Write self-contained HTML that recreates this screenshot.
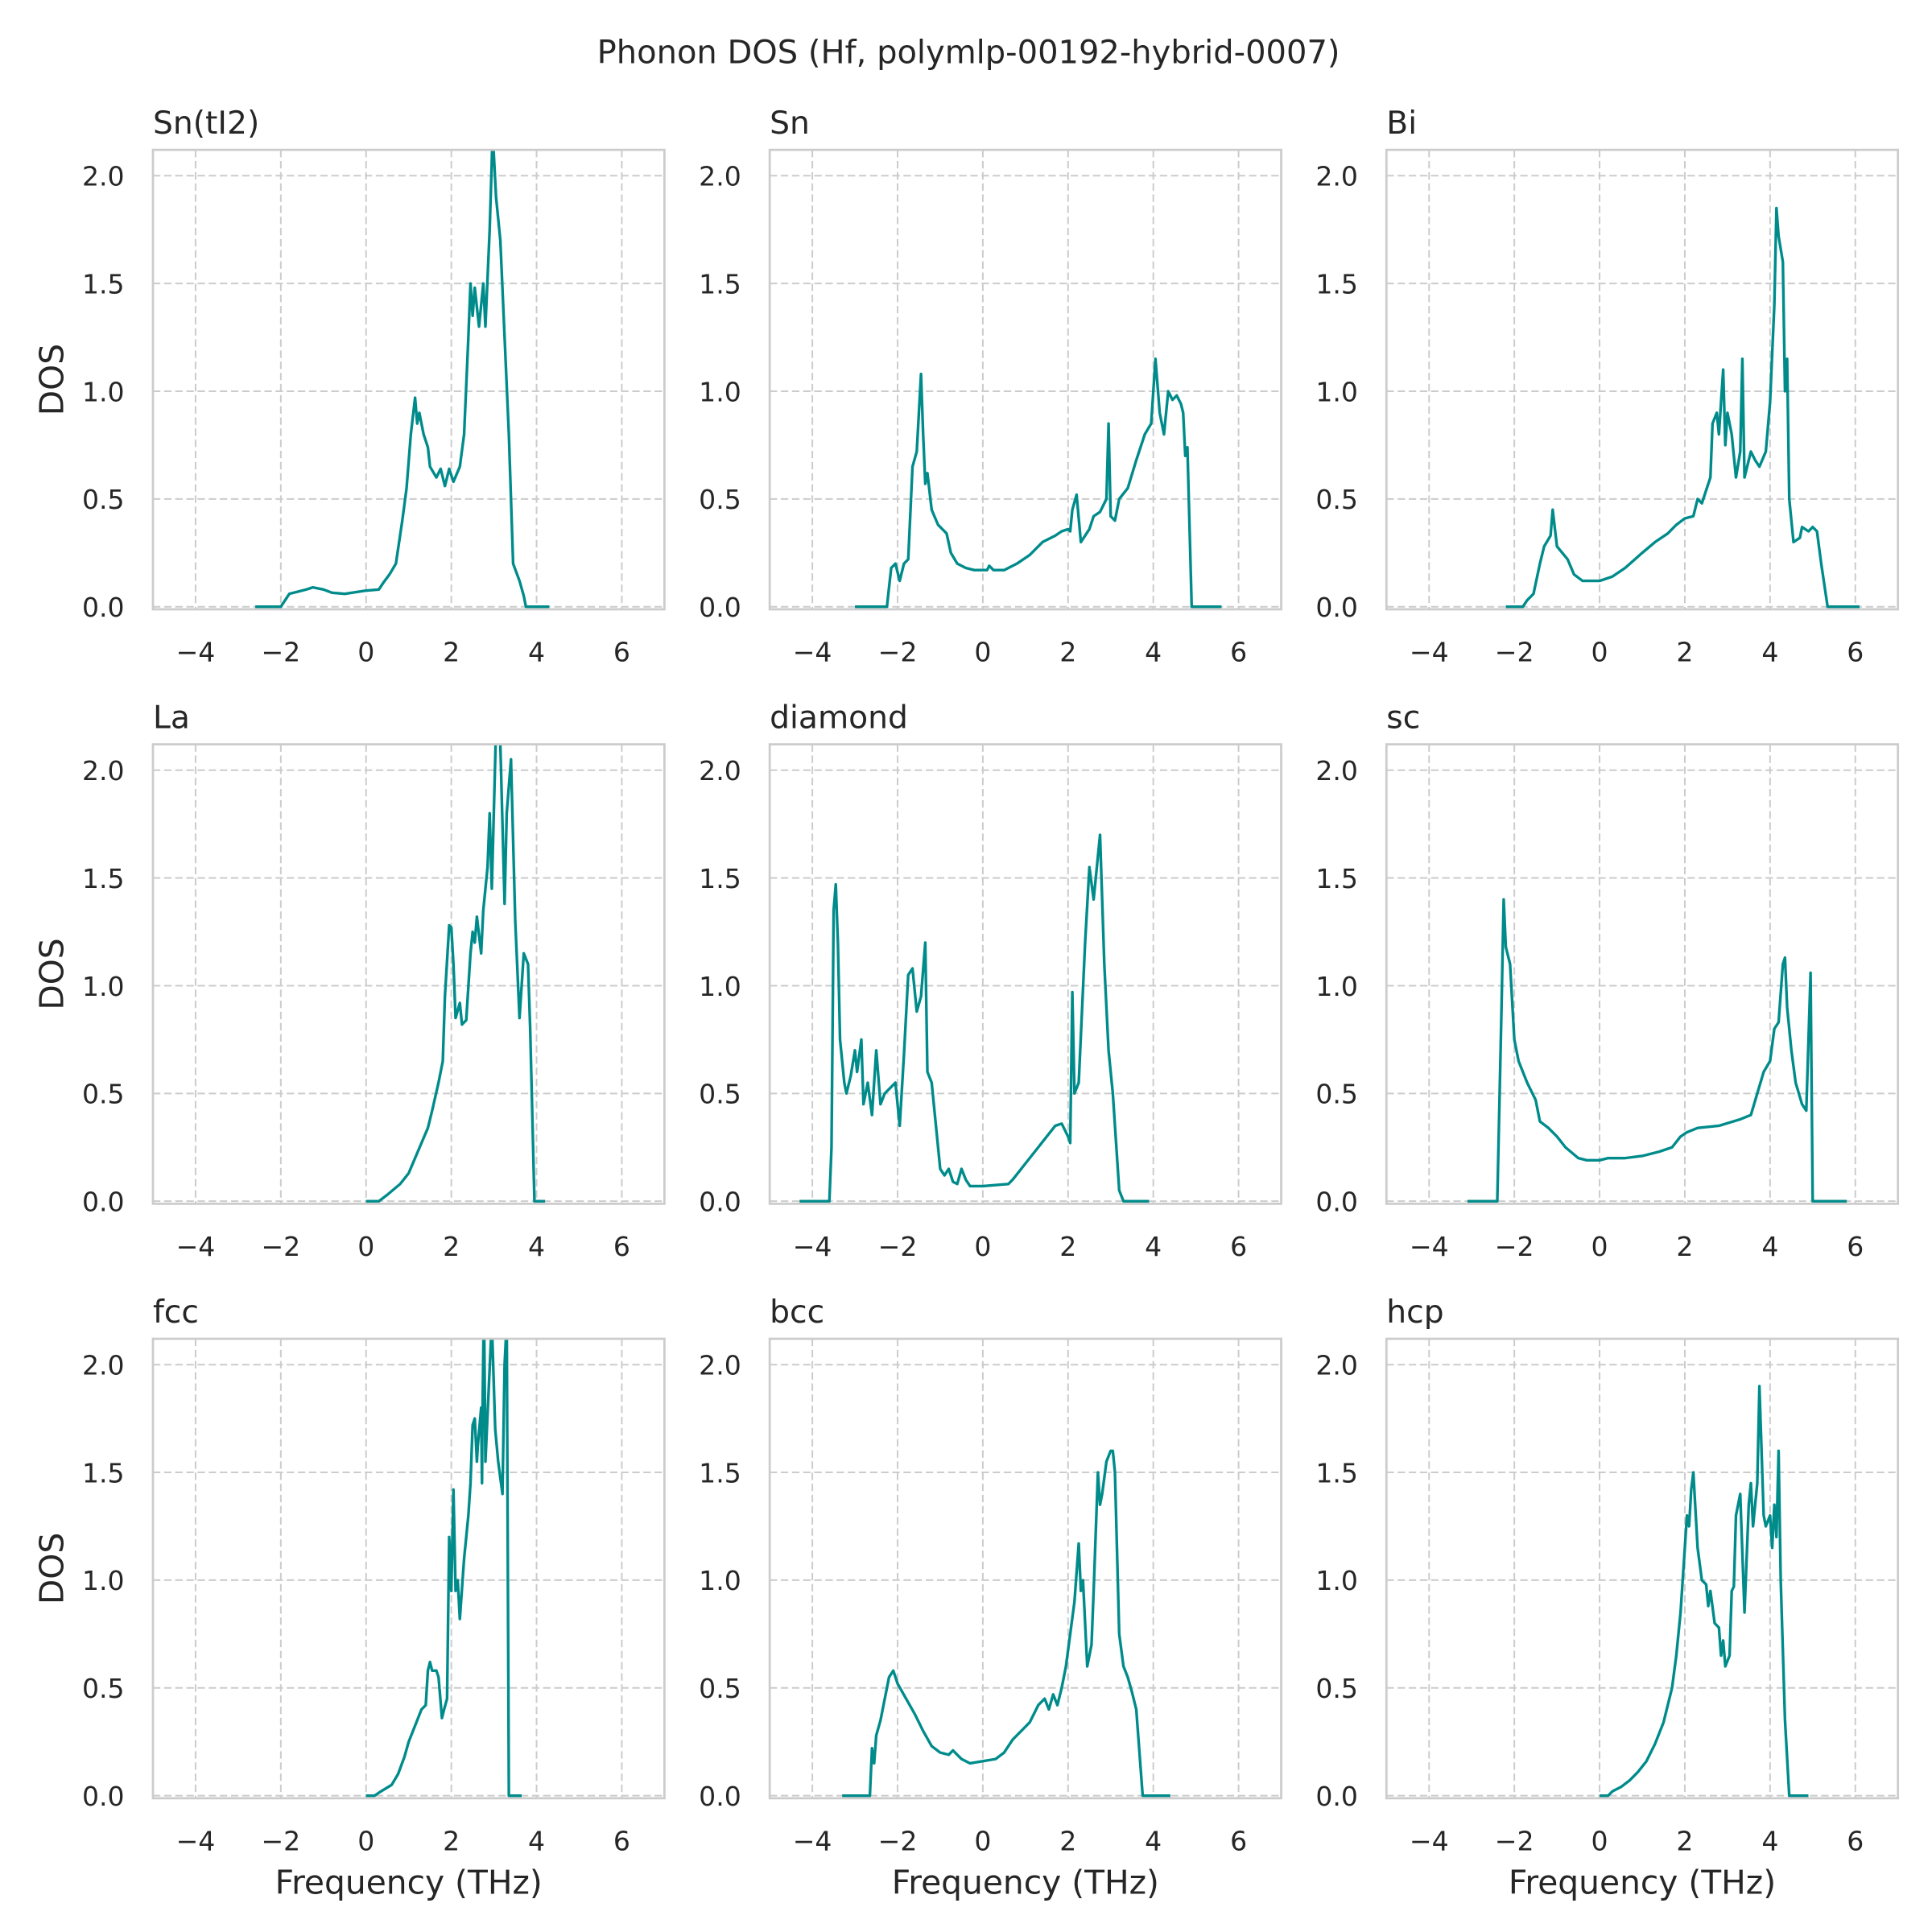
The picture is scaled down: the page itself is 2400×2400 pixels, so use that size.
<!DOCTYPE html>
<html><head><meta charset="utf-8">
<style>
html,body{margin:0;padding:0;background:#fff;}
svg{display:block;font-family:"DejaVu Sans","Liberation Sans",sans-serif;}
</style></head>
<body>
<svg id="fig" width="2400" height="2400" viewBox="0 0 1560 1560" xmlns="http://www.w3.org/2000/svg">
<rect width="1560" height="1560" fill="#fff"/>
<text x="782" y="51" font-size="26" fill="#262626" text-anchor="middle">Phonon DOS (Hf, polymlp-00192-hybrid-0007)</text>
</svg>
<script>
const panelTitles = ["Sn(tI2)","Sn","Bi","La","diamond","sc","fcc","bcc","hcp"];
const xTicks = [-4,-2,0,2,4,6];
const yTicks = [0,0.5,1.0,1.5,2.0];
const xTickLabels = ["\u22124","\u22122","0","2","4","6"];
const yTickLabels = ["0.0","0.5","1.0","1.5","2.0"];
const dosSnTI2 = [[-2.6,0],[-2.0,0],[-1.9,0.03],[-1.8,0.06],[-1.6,0.07],[-1.4,0.08],[-1.25,0.09],[-1.0,0.08],[-0.8,0.065],[-0.5,0.06],[0,0.075],[0.3,0.08],[0.4,0.11],[0.55,0.15],[0.7,0.2],[0.85,0.4],[0.95,0.55],[1.05,0.8],[1.15,0.97],[1.2,0.85],[1.25,0.9],[1.35,0.8],[1.45,0.74],[1.5,0.65],[1.65,0.6],[1.75,0.64],[1.85,0.56],[1.95,0.64],[2.05,0.58],[2.2,0.65],[2.3,0.8],[2.4,1.25],[2.45,1.5],[2.5,1.35],[2.55,1.48],[2.65,1.3],[2.75,1.5],[2.8,1.3],[2.9,1.75],[2.97,2.2],[3.05,1.9],[3.15,1.7],[3.25,1.25],[3.35,0.8],[3.45,0.2],[3.6,0.12],[3.7,0.05],[3.75,0],[4.3,0]];
const dosSn = [[-3.0,0],[-2.25,0],[-2.15,0.18],[-2.05,0.2],[-1.95,0.12],[-1.85,0.2],[-1.75,0.22],[-1.65,0.65],[-1.55,0.72],[-1.45,1.08],[-1.4,0.8],[-1.35,0.57],[-1.3,0.62],[-1.2,0.45],[-1.05,0.38],[-0.85,0.34],[-0.75,0.25],[-0.6,0.2],[-0.4,0.18],[-0.2,0.17],[0,0.17],[0.1,0.17],[0.15,0.19],[0.25,0.17],[0.5,0.17],[0.8,0.2],[1.1,0.24],[1.4,0.3],[1.7,0.33],[1.85,0.35],[2.0,0.36],[2.05,0.35],[2.1,0.45],[2.2,0.52],[2.3,0.3],[2.5,0.36],[2.6,0.42],[2.75,0.44],[2.9,0.5],[2.95,0.85],[3.0,0.42],[3.1,0.4],[3.2,0.5],[3.4,0.55],[3.6,0.68],[3.8,0.8],[3.95,0.85],[4.05,1.15],[4.15,0.9],[4.25,0.8],[4.35,1.0],[4.45,0.96],[4.55,0.98],[4.65,0.94],[4.7,0.9],[4.75,0.7],[4.8,0.74],[4.9,0],[5.6,0]];
const dosBi = [[-2.2,0],[-1.8,0],[-1.7,0.03],[-1.55,0.06],[-1.4,0.2],[-1.3,0.28],[-1.15,0.33],[-1.1,0.45],[-1.0,0.28],[-0.75,0.22],[-0.6,0.15],[-0.4,0.12],[0,0.12],[0.3,0.14],[0.6,0.18],[1.0,0.25],[1.3,0.3],[1.6,0.34],[1.8,0.38],[2.0,0.41],[2.2,0.42],[2.3,0.5],[2.4,0.48],[2.6,0.6],[2.65,0.85],[2.75,0.9],[2.8,0.8],[2.9,1.1],[2.95,0.75],[3.0,0.9],[3.1,0.8],[3.2,0.6],[3.3,0.72],[3.35,1.15],[3.4,0.6],[3.55,0.72],[3.65,0.68],[3.75,0.65],[3.9,0.72],[4.0,0.95],[4.1,1.4],[4.15,1.85],[4.2,1.72],[4.3,1.6],[4.35,1.0],[4.4,1.15],[4.45,0.5],[4.55,0.3],[4.7,0.32],[4.75,0.37],[4.9,0.35],[5.0,0.37],[5.1,0.35],[5.2,0.2],[5.35,0],[6.1,0]];
const dosLa = [[0,0],[0.3,0],[0.5,0.03],[0.8,0.08],[1.0,0.13],[1.15,0.2],[1.3,0.27],[1.45,0.34],[1.55,0.42],[1.7,0.55],[1.8,0.65],[1.85,0.95],[1.95,1.28],[2.0,1.27],[2.05,1.1],[2.1,0.85],[2.2,0.92],[2.25,0.82],[2.35,0.84],[2.45,1.15],[2.5,1.25],[2.55,1.2],[2.6,1.32],[2.7,1.15],[2.75,1.35],[2.85,1.55],[2.9,1.8],[2.95,1.45],[3.05,2.2],[3.1,2.15],[3.15,2.12],[3.2,1.75],[3.25,1.38],[3.3,1.8],[3.4,2.05],[3.5,1.3],[3.6,0.85],[3.7,1.15],[3.8,1.1],[3.85,0.8],[3.95,0],[4.2,0]];
const dosDiamond = [[-4.3,0],[-3.6,0],[-3.55,0.25],[-3.5,1.35],[-3.45,1.47],[-3.4,1.2],[-3.35,0.75],[-3.25,0.55],[-3.2,0.5],[-3.1,0.58],[-3.0,0.7],[-2.95,0.6],[-2.85,0.75],[-2.8,0.45],[-2.7,0.55],[-2.6,0.4],[-2.5,0.7],[-2.4,0.45],[-2.3,0.5],[-2.2,0.52],[-2.05,0.55],[-1.95,0.35],[-1.85,0.68],[-1.75,1.05],[-1.65,1.08],[-1.55,0.88],[-1.45,0.95],[-1.35,1.2],[-1.3,0.6],[-1.2,0.55],[-1.1,0.35],[-1.0,0.15],[-0.9,0.12],[-0.8,0.15],[-0.7,0.09],[-0.6,0.08],[-0.5,0.15],[-0.4,0.1],[-0.3,0.07],[0,0.07],[0.6,0.08],[0.7,0.1],[0.9,0.15],[1.1,0.2],[1.3,0.25],[1.5,0.3],[1.7,0.35],[1.85,0.36],[2.0,0.3],[2.05,0.27],[2.1,0.97],[2.15,0.5],[2.25,0.55],[2.4,1.2],[2.5,1.55],[2.6,1.4],[2.75,1.7],[2.85,1.1],[2.95,0.7],[3.05,0.5],[3.2,0.05],[3.3,0],[3.9,0]];
const dosSc = [[-3.1,0],[-2.4,0],[-2.3,0.9],[-2.25,1.4],[-2.2,1.18],[-2.1,1.1],[-2.0,0.75],[-1.9,0.65],[-1.7,0.55],[-1.5,0.47],[-1.4,0.37],[-1.2,0.34],[-1.0,0.3],[-0.8,0.25],[-0.5,0.2],[-0.3,0.19],[0,0.19],[0.2,0.2],[0.6,0.2],[1.0,0.21],[1.4,0.23],[1.7,0.25],[1.9,0.3],[2.05,0.32],[2.3,0.34],[2.8,0.35],[3.3,0.38],[3.55,0.4],[3.7,0.5],[3.85,0.6],[4.0,0.65],[4.1,0.8],[4.2,0.83],[4.3,1.1],[4.35,1.13],[4.4,0.9],[4.5,0.7],[4.6,0.55],[4.75,0.45],[4.85,0.42],[4.95,1.06],[5.0,0],[5.8,0]];
const dosFcc = [[0,0],[0.2,0],[0.35,0.02],[0.6,0.05],[0.75,0.1],[0.9,0.18],[1.0,0.25],[1.1,0.3],[1.3,0.4],[1.4,0.42],[1.45,0.58],[1.5,0.62],[1.55,0.58],[1.65,0.58],[1.7,0.55],[1.78,0.36],[1.83,0.4],[1.9,0.45],[1.95,1.2],[2.0,0.95],[2.05,1.42],[2.1,0.95],[2.15,1.0],[2.2,0.82],[2.3,1.1],[2.4,1.3],[2.45,1.45],[2.5,1.72],[2.55,1.75],[2.6,1.55],[2.62,1.62],[2.7,1.8],[2.72,1.45],[2.73,1.75],[2.76,2.2],[2.77,2.2],[2.8,1.55],[2.95,2.2],[3.03,1.7],[3.1,1.55],[3.2,1.4],[3.25,2.0],[3.3,2.2],[3.35,0],[3.65,0]];
const dosBcc = [[-3.3,0],[-2.65,0],[-2.6,0.22],[-2.55,0.15],[-2.5,0.28],[-2.4,0.35],[-2.3,0.45],[-2.2,0.55],[-2.1,0.58],[-2.0,0.52],[-1.8,0.45],[-1.6,0.38],[-1.4,0.3],[-1.2,0.23],[-1.0,0.2],[-0.8,0.19],[-0.7,0.21],[-0.6,0.19],[-0.5,0.17],[-0.3,0.15],[0.3,0.17],[0.5,0.2],[0.7,0.26],[0.9,0.3],[1.1,0.34],[1.3,0.42],[1.45,0.45],[1.55,0.4],[1.65,0.47],[1.75,0.42],[1.85,0.5],[1.95,0.6],[2.05,0.75],[2.15,0.9],[2.25,1.17],[2.3,0.95],[2.35,1.0],[2.45,0.6],[2.55,0.7],[2.6,0.95],[2.7,1.5],[2.75,1.35],[2.8,1.4],[2.9,1.55],[3.0,1.6],[3.05,1.6],[3.1,1.5],[3.2,0.75],[3.3,0.6],[3.4,0.55],[3.5,0.48],[3.6,0.4],[3.75,0],[4.4,0]];
const dosHcp = [[0,0],[0.2,0],[0.3,0.02],[0.5,0.04],[0.7,0.07],[0.9,0.11],[1.1,0.16],[1.3,0.24],[1.5,0.34],[1.6,0.42],[1.7,0.5],[1.8,0.65],[1.9,0.85],[2.0,1.15],[2.05,1.3],[2.1,1.25],[2.15,1.42],[2.2,1.5],[2.3,1.15],[2.4,1.0],[2.5,0.98],[2.55,0.88],[2.6,0.95],[2.7,0.8],[2.8,0.78],[2.85,0.65],[2.9,0.72],[2.95,0.6],[3.05,0.65],[3.1,0.95],[3.15,0.97],[3.2,1.3],[3.3,1.4],[3.4,0.85],[3.5,1.35],[3.55,1.45],[3.6,1.25],[3.7,1.45],[3.75,1.9],[3.85,1.3],[3.9,1.25],[4.0,1.3],[4.05,1.15],[4.1,1.35],[4.15,1.2],[4.2,1.6],[4.25,1.0],[4.35,0.35],[4.45,0],[4.9,0]];
const panelSeries = [dosSnTI2,dosSn,dosBi,dosLa,dosDiamond,dosSc,dosFcc,dosBcc,dosHcp];

const NS="http://www.w3.org/2000/svg";
const svg=document.getElementById('fig');
const colL=[123.5,621.5,1119.5], rowT=[121,601,1081], W=413, H=371;
const xMin=-5,xMax=7,yMin=-0.012,yMax=2.12;
function mk(tag,attrs,parent){const e=document.createElementNS(NS,tag);for(const k in attrs)e.setAttribute(k,attrs[k]);(parent||svg).appendChild(e);return e;}
panelSeries.forEach((series,i)=>{
  const r=Math.floor(i/3),c=i%3,L=colL[c],T=rowT[r];
  const sx=v=>L+(v-xMin)/(xMax-xMin)*W;
  const sy=v=>T+H-(v-yMin)/(yMax-yMin)*H;
  const g=mk('g',{});
  
  
  const cp=mk('clipPath',{id:'clip'+i},g);mk('rect',{x:L,y:T,width:W,height:H},cp);
  xTicks.forEach((t,k)=>{
    const gl=mk('line',{x1:sx(t),x2:sx(t),y1:T,y2:T+H,stroke:'#cccccc','stroke-width':1.3,'stroke-dasharray':'6,3'},g);
    
    
    const tl=mk('text',{x:sx(t),y:T+H+42,'font-size':21.5,fill:'#262626','text-anchor':'middle'},g);
    tl.textContent=xTickLabels[k];
    
    
  });
  yTicks.forEach((t,k)=>{
    const gl=mk('line',{x1:L,x2:L+W,y1:sy(t),y2:sy(t),stroke:'#cccccc','stroke-width':1.3,'stroke-dasharray':'6,3'},g);
    
    
    const tl=mk('text',{x:L-23,y:sy(t)+8,'font-size':21.5,fill:'#262626','text-anchor':'end'},g);
    tl.textContent=yTickLabels[k];
    
    
  });
  const d=series.map((p,k)=>(k?'L':'M')+sx(p[0]).toFixed(2)+','+sy(p[1]).toFixed(2)).join('');
  const ln=mk('path',{d:d,fill:'none',stroke:'#008b8b','stroke-width':2.2,'stroke-linejoin':'round','clip-path':'url(#clip'+i+')'},g);
  
  
  const fr=mk('rect',{x:L,y:T,width:W,height:H,fill:'none',stroke:'#cccccc','stroke-width':1.8},g);
  
  
  const tt=mk('text',{x:L,y:T-13,'font-size':25.5,fill:'#262626'},g);
  tt.textContent=panelTitles[i];
  
  
  if(c===0){
    const yl=mk('text',{x:0,y:0,'font-size':26.5,fill:'#262626','text-anchor':'middle',transform:'translate(51,'+(T+H/2)+') rotate(-90)'},g);
    yl.textContent='DOS';
    
    
  }
  if(r===2){
    const xl=mk('text',{x:L+W/2,y:T+H+77,'font-size':26.5,fill:'#262626','text-anchor':'middle'},g);
    xl.textContent='Frequency (THz)';
    
    
  }
});
</script>
</body></html>
